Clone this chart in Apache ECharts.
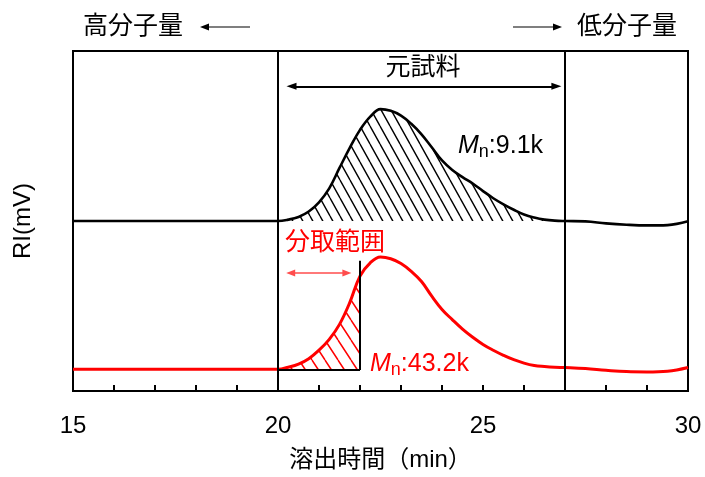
<!DOCTYPE html>
<html><head><meta charset="utf-8">
<script src="https://cdn.jsdelivr.net/npm/echarts@6/dist/echarts.min.js"></script>
<style>html,body{margin:0;padding:0;background:#fff}#c{width:705px;height:477px}</style>
</head><body><div id="c"></div>
<script>
// ---- data ----
const xTickLabels = [15, 20, 25, 30];
const blackTime = [15, 16, 17, 18, 19, 20, 20.25, 20.5, 20.75, 21, 21.25, 21.5, 21.75, 22, 22.25, 22.5, 22.75, 23, 23.25, 23.5, 23.75, 24, 24.25, 24.5, 24.75, 25, 25.25, 25.5, 25.75, 26, 26.25, 26.5, 26.75, 27, 27.5, 28, 28.5, 29, 29.5, 30];
const blackRI   = [50, 50, 50, 50, 50, 50, 50.4, 51.2, 52.8, 55.5, 59.6, 65.6, 71.5, 76.8, 80.7, 82.9, 82.4, 81.0, 78.6, 75.5, 71.7, 67.8, 65.0, 62.9, 61.0, 58.8, 56.7, 54.9, 53.3, 51.9, 51.0, 50.4, 50.1, 50.0, 49.9, 49.3, 48.9, 48.7, 48.8, 49.9];
const redTime = [15, 16, 17, 18, 19, 20, 20.25, 20.5, 20.75, 21, 21.25, 21.5, 21.75, 22, 22.25, 22.5, 22.75, 23, 23.25, 23.5, 23.75, 24, 24.25, 24.5, 24.75, 25, 25.25, 25.5, 25.75, 26, 26.25, 26.5, 26.75, 27, 27.5, 28, 28.5, 29, 29.5, 30];
const redRI   = [6.4, 6.4, 6.4, 6.4, 6.4, 6.4, 7.0, 7.9, 9.5, 12.0, 15.2, 19.6, 26.0, 33.8, 37.7, 39.4, 38.9, 37.5, 35.2, 32.2, 27.9, 24.0, 21.0, 18.2, 15.8, 13.7, 12.0, 10.5, 9.2, 8.2, 7.5, 7.2, 7.0, 6.9, 6.6, 6.1, 5.7, 5.6, 5.8, 6.9];
const blackBase = 50;
const redBase = 6.4;
const sampleRange = [20, 27];    // 元試料
const fractionRange = [20, 22];  // 分取範囲
const fractionTop = 38.3;        // top of the cut line at 22 min
const sampleArrow = [20.33, 26.79, 89.6];
const fractionArrow = [20.31, 21.68, 34.7];

// ---- helpers ----
const FONT = "'Liberation Sans', 'Noto Sans CJK JP', sans-serif";
function zip(t, v) { return t.map((x, i) => [x, v[i]]); }
function within(t, v, r) { return zip(t, v).filter(p => p[0] >= r[0] - 1e-9 && p[0] <= r[1] + 1e-9); }
function hatch(color, w, h, lw) {
  const c = document.createElement('canvas'); c.width = w; c.height = h;
  const g = c.getContext('2d'); g.strokeStyle = color; g.lineWidth = lw;
  g.beginPath();
  for (const dx of [-w, 0, w]) { g.moveTo(dx, 0); g.lineTo(dx + w, h); }
  g.stroke();
  return c;
}

const chart = echarts.init(document.getElementById('c'), null, { renderer: 'canvas' });
const lineSolid = (color, width) => ({ color, width, type: 'solid' });
const SMOOTH = 0.4;

chart.setOption({
  animation: false,
  backgroundColor: '#fff',
  grid: { left: 73, right: 17, top: 51, bottom: 84, show: true, borderColor: '#000', borderWidth: 2, backgroundColor: 'transparent' },
  xAxis: {
    type: 'value', min: 15, max: 30, interval: 1,
    axisLine: { show: true, lineStyle: lineSolid('#000', 2) },
    axisTick: { show: true, inside: true, length: 6, lineStyle: lineSolid('#000', 2) },
    axisLabel: { color: '#000', fontSize: 24, fontFamily: FONT, margin: 23,
      formatter: v => xTickLabels.includes(v) ? String(v) : '' },
    splitLine: { show: false },
    name: '溶出時間（min）', nameLocation: 'middle', nameGap: 57,
    nameTextStyle: { color: '#000', fontSize: 24, fontFamily: FONT }
  },
  yAxis: {
    type: 'value', min: 0, max: 100,
    axisLine: { show: true, lineStyle: lineSolid('#000', 2) },
    axisTick: { show: false }, axisLabel: { show: false }, splitLine: { show: false },
    name: 'RI(mV)', nameLocation: 'middle', nameGap: 38,
    nameTextStyle: { color: '#000', fontSize: 24, fontFamily: FONT }
  },
  series: [
    { type: 'line', data: within(blackTime, blackRI, sampleRange), smooth: SMOOTH, showSymbol: false, silent: true,
      lineStyle: { width: 0 }, z: 1,
      areaStyle: { origin: blackBase, opacity: 1, color: { image: hatch('#000', 10, 18, 1.4), repeat: 'repeat' } } },
    { type: 'line', data: within(redTime, redRI, fractionRange), smooth: SMOOTH, showSymbol: false, silent: true,
      lineStyle: { width: 0 }, z: 1,
      areaStyle: { origin: redBase, opacity: 1, color: { image: hatch('#ff0000', 13, 20, 1.5), repeat: 'repeat' } } },
    { type: 'line', data: zip(blackTime, blackRI), smooth: SMOOTH, showSymbol: false, z: 3,
      lineStyle: lineSolid('#000', 2.6),
      markLine: {
        silent: true, symbol: 'none', label: { show: false },
        lineStyle: lineSolid('#000', 2),
        data: [
          { xAxis: sampleRange[0] },
          { xAxis: sampleRange[1] },
          [{ coord: [fractionRange[1], redBase - 0.2] }, { coord: [fractionRange[1], fractionTop] }],
          [{ coord: [fractionRange[0], redBase - 0.2] }, { coord: [fractionRange[1], redBase - 0.2] }],
          [{ coord: [sampleArrow[0], sampleArrow[2]], symbol: 'triangle', symbolSize: [7, 10] },
           { coord: [sampleArrow[1], sampleArrow[2]], symbol: 'triangle', symbolSize: [7, 10] }]
        ]
      } },
    { type: 'line', data: zip(redTime, redRI), smooth: SMOOTH, showSymbol: false, z: 3,
      lineStyle: lineSolid('#ff0000', 3),
      markLine: {
        silent: true, symbol: 'none', label: { show: false },
        lineStyle: lineSolid('#ff4d4d', 1.5),
        data: [
          [{ coord: [fractionArrow[0], fractionArrow[2]], symbol: 'triangle', symbolSize: [7, 9] },
           { coord: [fractionArrow[1], fractionArrow[2]], symbol: 'triangle', symbolSize: [7, 9] }]
        ]
      } }
  ]
});

function txt(x, y, text, color, align, size) {
  return { type: 'text', x, y, silent: true, z: 10,
    style: { text, fill: color, font: (size || 25) + 'px ' + FONT,
      align: align || 'left', verticalAlign: 'middle', textAlign: align || 'left', textVerticalAlign: 'middle' } };
}
function mn(x, y, value, color) {
  return { type: 'text', x, y, silent: true, z: 10,
    style: { text: '{m|M}{n|n}{r|:' + value + '}', fill: color, align: 'left', verticalAlign: 'middle',
      textAlign: 'left', textVerticalAlign: 'middle',
      rich: {
        m: { fontStyle: 'italic', fontSize: 25, fontFamily: FONT, lineHeight: 30, fill: color },
        n: { fontSize: 18, fontFamily: FONT, lineHeight: 19, verticalAlign: 'bottom', fill: color },
        r: { fontSize: 25, fontFamily: FONT, lineHeight: 30, fill: color }
      } } };
}
chart.setOption({
  graphic: [
    txt(83, 27, '高分子量', '#000'),
    { type: 'line', silent: true, shape: { x1: 206, y1: 27, x2: 250, y2: 27 }, style: { stroke: '#000', lineWidth: 1.2 } },
    { type: 'polygon', silent: true, shape: { points: [[200, 27], [209, 23.5], [209, 30.5]] }, style: { fill: '#000' } },
    txt(577, 27, '低分子量', '#000'),
    { type: 'line', silent: true, shape: { x1: 513, y1: 27, x2: 556, y2: 27 }, style: { stroke: '#000', lineWidth: 1.2 } },
    { type: 'polygon', silent: true, shape: { points: [[562, 27], [553, 23.5], [553, 30.5]] }, style: { fill: '#000' } },
    txt(423, 68, '元試料', '#000', 'center'),
    txt(285, 243, '分取範囲', '#ff0000'),
    mn(458, 146, '9.1k', '#000'),
    mn(370, 364, '43.2k', '#ff0000')
  ]
});
</script>
</body></html>
